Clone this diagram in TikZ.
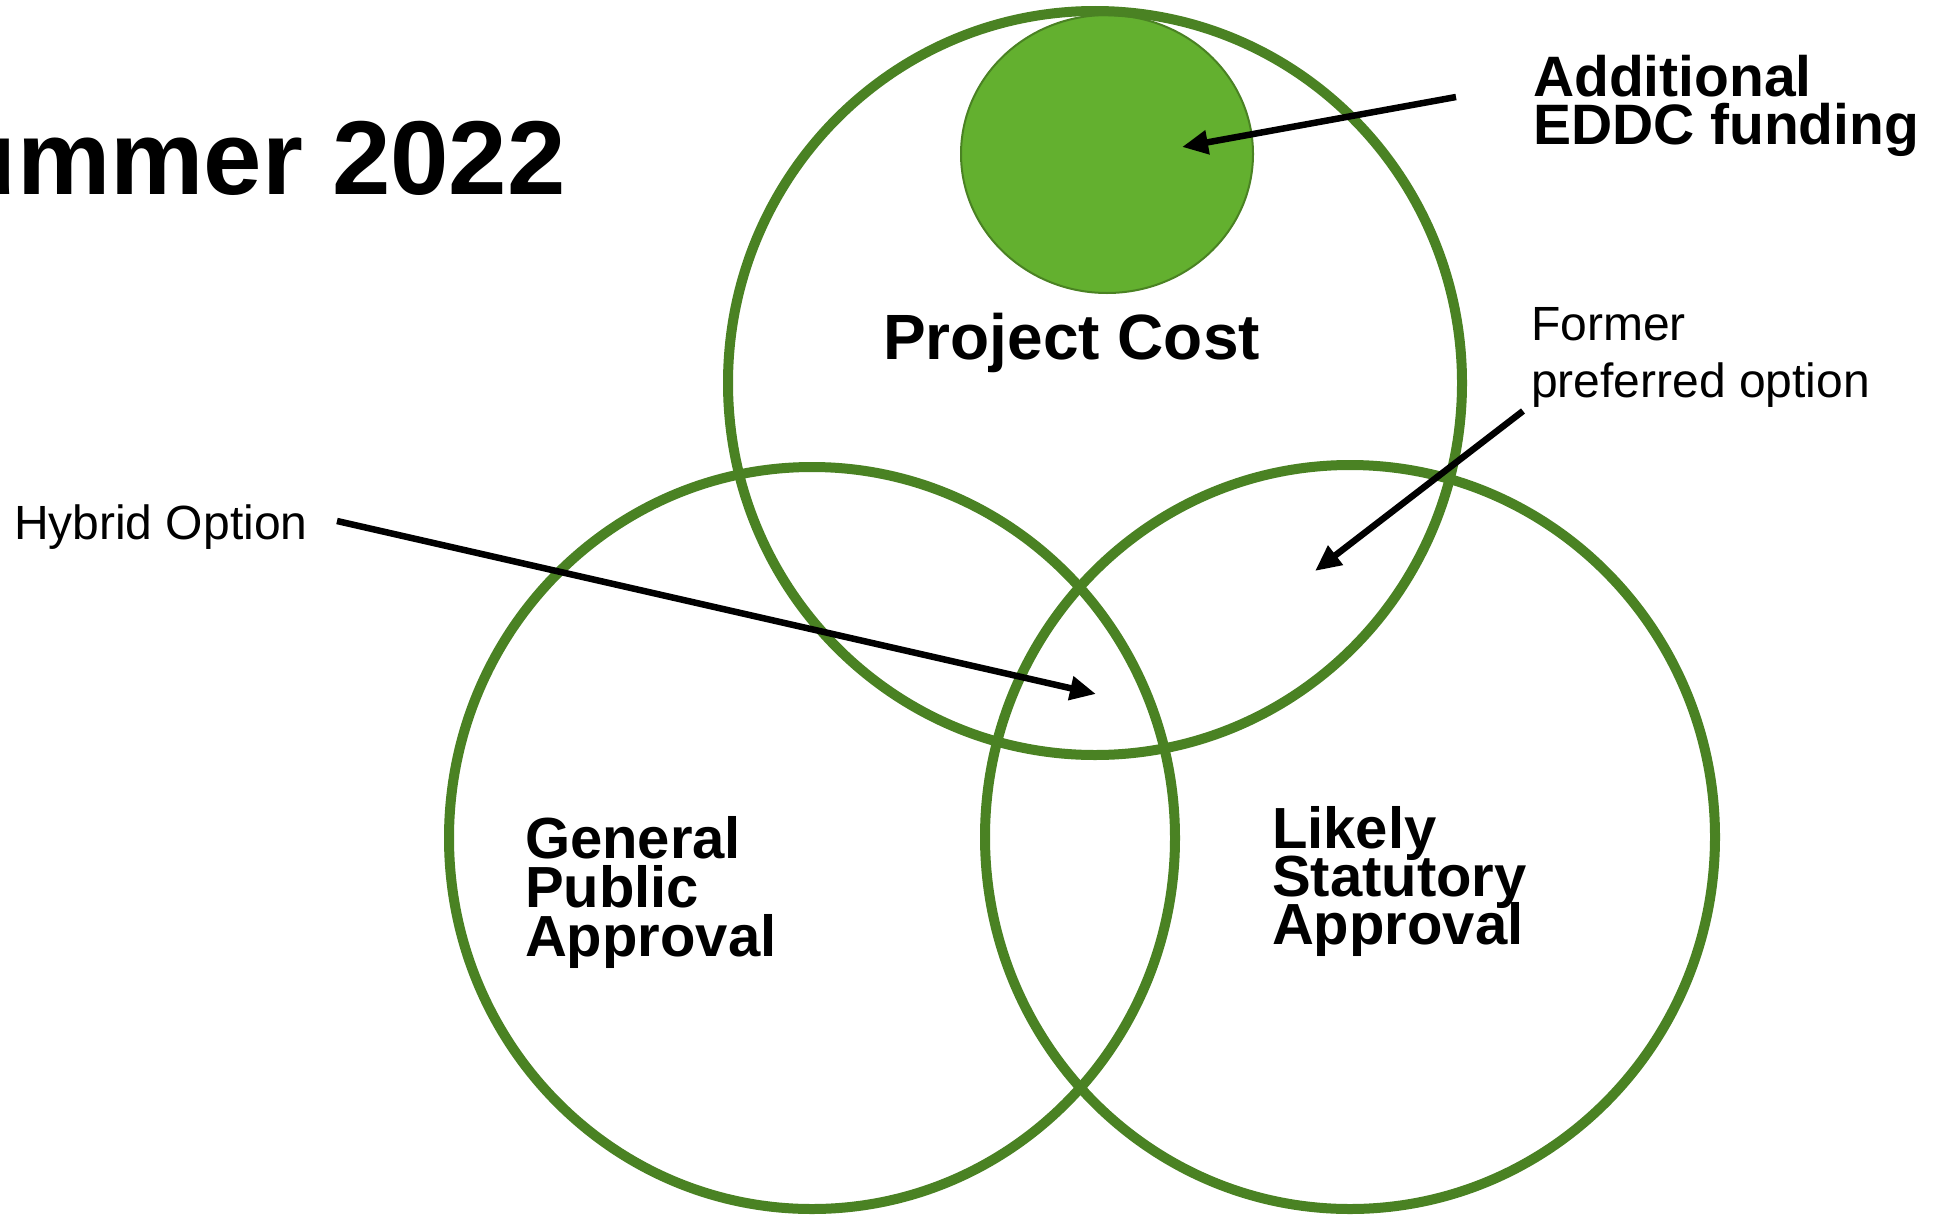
\documentclass[tikz,border=0pt]{standalone}
\usepackage{fontspec}
\setmainfont{Liberation Sans}
\usetikzlibrary{arrows.meta,shapes.geometric}
\definecolor{venngreen}{RGB}{74,130,35}
\definecolor{fillgreen}{RGB}{99,176,47}
\newcommand\mytightlines{\setlength{\lineskiplimit}{-200pt}\setlength{\lineskip}{0pt}}
\tikzset{
  venn/.style={ellipse, draw=venngreen, line width=10pt, inner sep=0pt, outer sep=0pt},
  blob/.style={ellipse, draw=venngreen, fill=fillgreen, line width=2pt, inner sep=0pt},
  pointer/.style={draw=black, line width=6.5pt, -{Triangle[length=26pt,width=23pt]}},
  boldlbl/.style={inner sep=0pt, outer sep=0pt, align=left, anchor=base west},
  plainlbl/.style={inner sep=0pt, outer sep=0pt, align=left, anchor=base west,
    font=\fontsize{48}{57}\selectfont},
}
\begin{document}
\begin{tikzpicture}[x=1pt,y=-1pt]
\useasboundingbox (0,0) rectangle (1956,1218);
\clip (0,0) rectangle (1956,1218);
\fill[white] (0,0) rectangle (1956,1218);

% filled ellipse (additional funding)
\node[blob, minimum width=292pt, minimum height=278pt] (fund) at (1107,154) {};

% Venn circles
\node[venn, minimum width=734pt, minimum height=744pt] (cost) at (1095,383) {};
\node[venn, minimum width=726pt, minimum height=742pt] (public) at (812,838) {};
\node[venn, minimum width=730pt, minimum height=744pt] (statutory) at (1350,837) {};

% texts (base anchor of a multi-line node = baseline of its last line)
\node[inner sep=0pt, anchor=base east, font=\fontsize{105}{120}\selectfont\bfseries] (title) at (566,194) {ummer 2022};
\node[boldlbl, font={\fontsize{57}{48}\selectfont\bfseries\mytightlines}] (addl) at (1533,144) {Additional\\EDDC funding};
\node[boldlbl, font=\fontsize{64}{70}\selectfont\bfseries] (costlbl) at (883,359) {Project Cost};
\node[boldlbl, font={\fontsize{58}{49}\selectfont\bfseries\mytightlines}] (publbl) at (525,956) {General\\Public\\Approval};
\node[boldlbl, font={\fontsize{58}{48}\selectfont\bfseries\mytightlines}] (statlbl) at (1272,944) {Likely\\Statutory\\Approval};
\node[plainlbl] (hybrid) at (14,539) {Hybrid Option};
\node[plainlbl] (former) at (1531,397) {Former\\preferred option};

% arrow end points
\coordinate (addl-s) at (1456,97);
\coordinate (addl-t) at (1182,147);
\coordinate (former-s) at (1523,411);
\coordinate (former-t) at (1315,571);
\coordinate (hybrid-s) at (337,521);
\coordinate (hybrid-t) at (1096,694);

\draw[pointer] (addl-s) -- (addl-t);
\draw[pointer] (former-s) -- (former-t);
\draw[pointer] (hybrid-s) -- (hybrid-t);
\end{tikzpicture}
\end{document}
